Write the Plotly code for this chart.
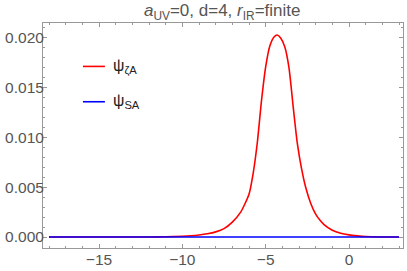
import plotly.graph_objects as go

# data
x_za = [-18, -14, -12, -11, -10, -9.5, -9, -8.5, -8, -7.5, -7, -6.5, -6, -5.75, -5.5,
        -5.25, -5, -4.75, -4.5, -4.3, -4.1, -3.85, -3.6, -3.35, -3.1, -2.85, -2.6,
        -2.3, -2, -1.75, -1.5, -1, -0.5, 0, 0.5, 1, 2, 3]
psi_za = [0.0, 0.000003, 0.00001, 0.00003, 0.00008, 0.00013, 0.00021, 0.00033, 0.00052,
          0.00085, 0.0015, 0.0025, 0.0043, 0.0064, 0.0095, 0.0137, 0.0171, 0.0192,
          0.0201, 0.0203, 0.0200, 0.0191, 0.0170, 0.0131, 0.0094, 0.0069, 0.0050,
          0.0034, 0.0023, 0.0017, 0.00125, 0.00068, 0.00038, 0.00022, 0.00012,
          0.00005, 0.00001, 0.000002]
x_sa = [-18, -12, -6, 0, 3]
psi_sa = [0.0, 0.0, 0.0, 0.0, 0.0]

x_ticks = [-15, -10, -5, 0]
y_ticks = [0.0, 0.005, 0.010, 0.015, 0.020]

FONT = "Liberation Sans, Arial, sans-serif"
GRAY = "#555555"
FRAME = "#999999"

fig = go.Figure()
fig.add_trace(go.Scatter(x=x_za, y=psi_za, mode="lines",
                         line=dict(color="#ff0000", width=1.6, shape="spline", smoothing=0.6),
                         showlegend=False))
fig.add_trace(go.Scatter(x=x_sa, y=psi_sa, mode="lines",
                         line=dict(color="#0000ff", width=1.6),
                         showlegend=False))

axis_common = dict(showgrid=False, zeroline=False, showline=True, linecolor=FRAME,
                   linewidth=1, mirror="allticks", ticks="inside", tickcolor=FRAME,
                   tickwidth=1, automargin=False,
                   tickfont=dict(family=FONT, size=15.5, color=GRAY))

fig.update_xaxes(range=[-18.36, 3.24], tickvals=x_ticks, ticklen=4, ticklabelstandoff=-3,
                 minor=dict(ticks="inside", ticklen=2, dtick=1, tick0=0, tickcolor=FRAME),
                 **axis_common)
fig.update_yaxes(range=[-0.0011, 0.0215], tickvals=y_ticks, tickformat=".3f", ticklen=4,
                 ticklabelstandoff=-5,
                 minor=dict(ticks="inside", ticklen=2, dtick=0.001, tick0=0, tickcolor=FRAME),
                 **axis_common)

# legend drawn manually (Mathematica-style placement inside the frame)
fig.add_shape(type="line", xref="paper", yref="paper", x0=0.111, x1=0.172, y0=0.807, y1=0.807,
              line=dict(color="#ff0000", width=1.6))
fig.add_shape(type="line", xref="paper", yref="paper", x0=0.111, x1=0.172, y0=0.65, y1=0.65,
              line=dict(color="#0000ff", width=1.6))
fig.add_annotation(xref="paper", yref="paper", x=0.19, y=0.807, xanchor="left", yanchor="middle",
                   text="ψ<sub>ζA</sub>", showarrow=False,
                   font=dict(family=FONT, size=16, color="#222222"))
fig.add_annotation(xref="paper", yref="paper", x=0.19, y=0.65, xanchor="left", yanchor="middle",
                   text="ψ<sub>SA</sub>", showarrow=False,
                   font=dict(family=FONT, size=16, color="#222222"))

fig.update_layout(
    width=407, height=271,
    margin=dict(l=43, r=4, t=23, b=23),
    paper_bgcolor="white", plot_bgcolor="white",
    title=dict(text="<i>a</i><sub>UV</sub>=0, d=4, <i>r</i><sub>IR</sub>=finite",
               x=0.546, xanchor="center", y=0.962, yanchor="middle", automargin=False,
               font=dict(family=FONT, size=17, color=GRAY)),
)

fig.write_html("out.html", config={"displayModeBar": False},
               post_script="document.body.style.margin='0';document.body.style.overflow='hidden';")
